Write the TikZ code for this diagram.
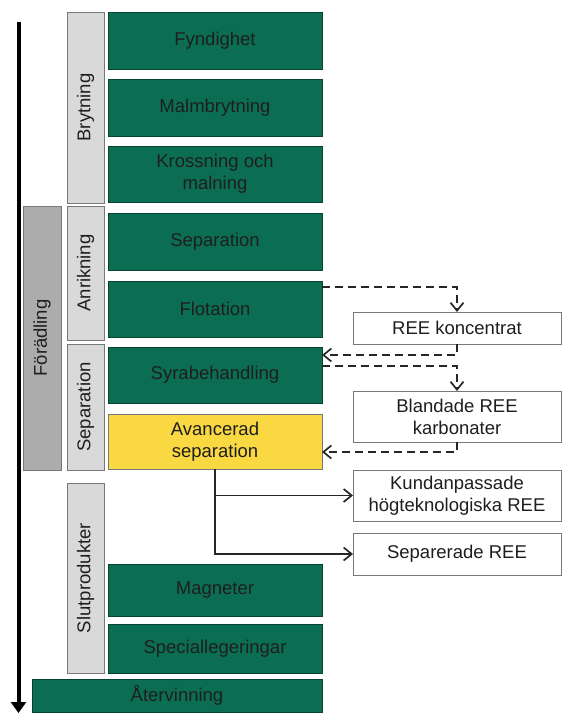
\documentclass[tikz,border=0pt]{standalone}
\usepackage{fontspec}
\setmainfont{Liberation Sans}
\usetikzlibrary{arrows.meta,calc}

\definecolor{stepgreen}{RGB}{11,110,83}
\definecolor{stepyellow}{RGB}{249,216,66}
\definecolor{phaselight}{RGB}{217,217,217}
\definecolor{phasedark}{RGB}{172,172,172}
\definecolor{edgegray}{RGB}{120,120,120}
\definecolor{txt}{RGB}{30,30,30}

\tikzset{
  base/.style={anchor=north west, inner sep=0pt, outer sep=0pt, align=center,
    text=txt, font=\fontsize{18.5}{22}\selectfont},
  greenbox/.style={base, fill=stepgreen, draw=stepgreen!60!black, line width=0.8pt,
    minimum width=214pt},
  yellowbox/.style={base, fill=stepyellow, draw=edgegray, line width=0.8pt,
    minimum width=214pt},
  phase/.style={base, fill=phaselight, draw=edgegray, line width=0.8pt,
    minimum width=37pt, rotate=90},
  outbox/.style={base, fill=white, draw=edgegray, line width=1pt,
    minimum width=208pt},
  flowdash/.style={line width=1.7pt, dash pattern=on 8pt off 5pt, black!85,
    -{Straight Barb[length=8pt,width=13pt]}},
  flowsolid/.style={line width=1.7pt, black!85,
    -{Straight Barb[length=8pt,width=13pt]}},
}

\begin{document}
\begin{tikzpicture}[x=1pt,y=-1pt]
\useasboundingbox (0,0) rectangle (562,713);

% main process steps
\node[greenbox, minimum height=57pt] (fynd)  at (108,12)  {Fyndighet};
\node[greenbox, minimum height=57pt] (malm)  at (108,79)  {Malmbrytning};
\node[greenbox, minimum height=56pt] (kross) at (108,146) {Krossning och\\malning};
\node[greenbox, minimum height=57pt] (sep)   at (108,213) {Separation};
\node[greenbox, minimum height=56pt] (flot)  at (108,281) {Flotation};
\node[greenbox, minimum height=56pt] (syra)  at (108,347) {Syrabehandling};
\node[yellowbox, minimum height=55pt] (avanc) at (108,414) {Avancerad\\separation};
\node[greenbox, minimum height=52pt] (magn)  at (108,564) {Magneter};
\node[greenbox, minimum height=49pt] (spec)  at (108,624) {Speciallegeringar};
\node[greenbox, minimum height=33pt, minimum width=290pt] (ater) at (32,679) {Återvinning};

% phase labels (rotated; anchor north west lands at the lower left corner)
\node[phase, minimum width=191pt, minimum height=37pt] (bryt)  at (67,203) {Brytning};
\node[phase, minimum width=134pt, minimum height=37pt] (anrik) at (67,340) {Anrikning};
\node[phase, minimum width=126pt, minimum height=37pt] (sepg)  at (67,470) {Separation};
\node[phase, minimum width=190pt, minimum height=37pt] (slut)  at (67,673) {Slutprodukter};
\node[phase, fill=phasedark, minimum width=264pt, minimum height=38pt] (forad) at (23,470) {Förädling};

% products
\node[outbox, minimum height=32pt] (rkonc) at (353,312) {REE koncentrat};
\node[outbox, minimum height=51pt] (bland) at (353,391) {Blandade REE\\karbonater};
\node[outbox, minimum height=51pt] (kund)  at (353,470) {Kundanpassade\\högteknologiska REE};
\node[outbox, minimum height=42pt] (separ) at (353,533) {Separerade REE};

% dashed material flows
\draw[flowdash] ($(flot.north east)+(0,6)$) -| (rkonc.north);
\draw[flowdash] (rkonc.south) |- ($(syra.north east)+(0,8)$);
\draw[flowdash] ($(syra.north east)+(0,19)$) -| (bland.north);
\draw[flowdash] (bland.south) |- ($(avanc.north east)+(0,38)$);

% solid output flows
\draw[flowsolid] (avanc.south) |- (kund.west);
\draw[flowsolid] (avanc.south) |- (separ.west);

% overall direction arrow
\coordinate (dirtop) at (18.5,22);
\coordinate (dirbot) at (18.5,713);
\draw[line width=4pt, -{Triangle[length=11pt,width=15pt]}] (dirtop) -- (dirbot);
\end{tikzpicture}
\end{document}
